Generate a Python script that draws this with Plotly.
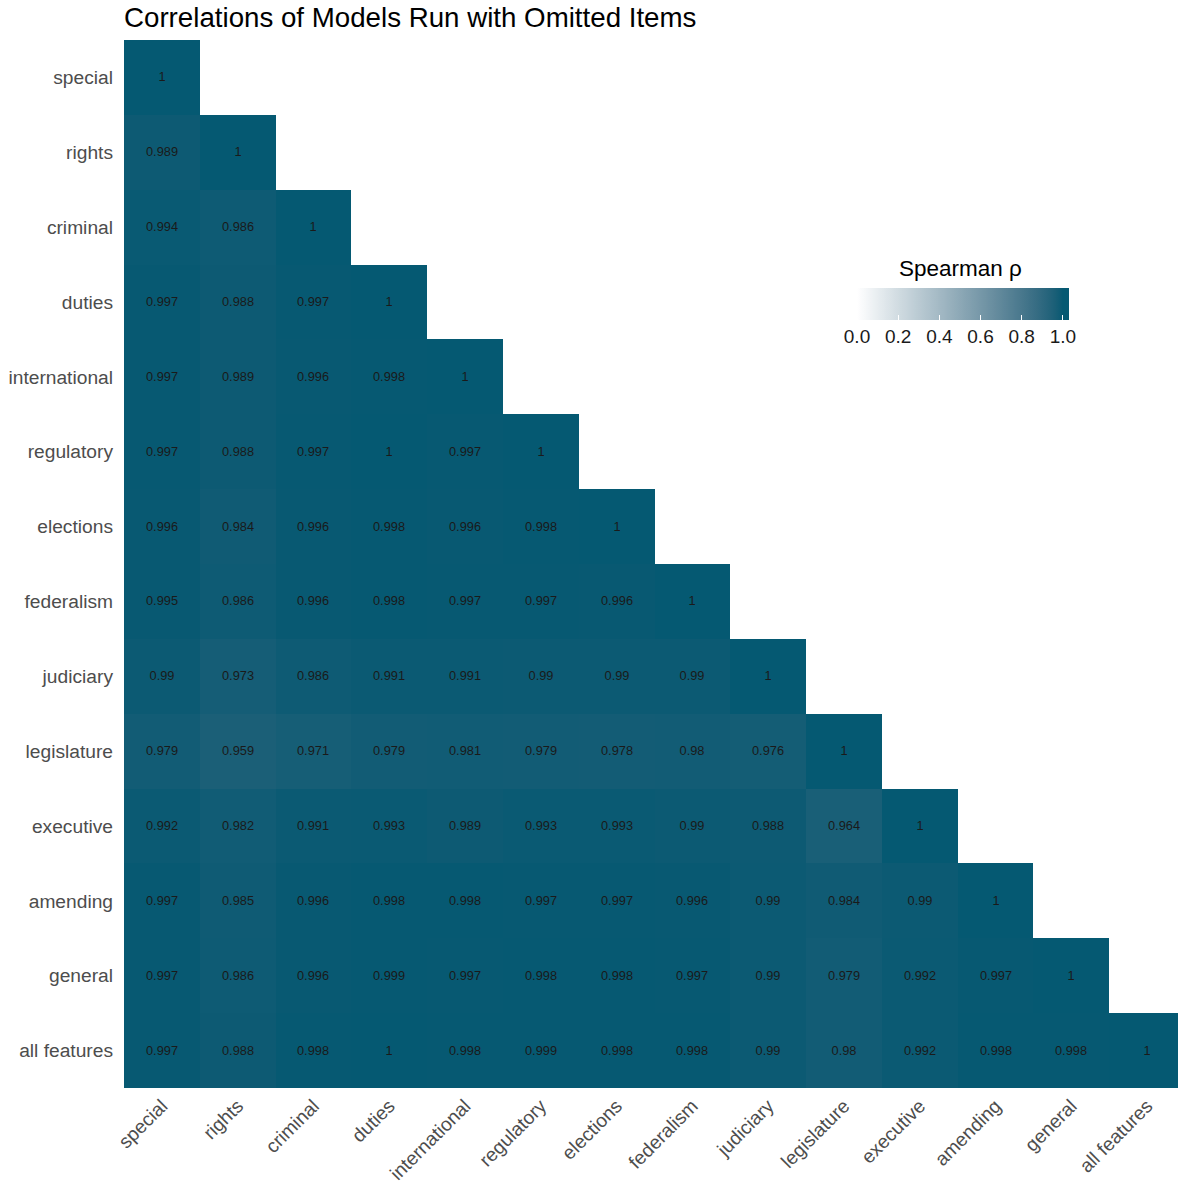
import numpy as np
import plotly.graph_objects as go

items = ["special", "rights", "criminal", "duties", "international", "regulatory",
         "elections", "federalism", "judiciary", "legislature", "executive",
         "amending", "general", "all features"]

r_special = [1]
r_rights = [0.989, 1]
r_criminal = [0.994, 0.986, 1]
r_duties = [0.997, 0.988, 0.997, 1]
r_international = [0.997, 0.989, 0.996, 0.998, 1]
r_regulatory = [0.997, 0.988, 0.997, 1, 0.997, 1]
r_elections = [0.996, 0.984, 0.996, 0.998, 0.996, 0.998, 1]
r_federalism = [0.995, 0.986, 0.996, 0.998, 0.997, 0.997, 0.996, 1]
r_judiciary = [0.99, 0.973, 0.986, 0.991, 0.991, 0.99, 0.99, 0.99, 1]
r_legislature = [0.979, 0.959, 0.971, 0.979, 0.981, 0.979, 0.978, 0.98, 0.976, 1]
r_executive = [0.992, 0.982, 0.991, 0.993, 0.989, 0.993, 0.993, 0.99, 0.988, 0.964, 1]
r_amending = [0.997, 0.985, 0.996, 0.998, 0.998, 0.997, 0.997, 0.996, 0.99, 0.984, 0.99, 1]
r_general = [0.997, 0.986, 0.996, 0.999, 0.997, 0.998, 0.998, 0.997, 0.99, 0.979, 0.992, 0.997, 1]
r_all = [0.997, 0.988, 0.998, 1, 0.998, 0.999, 0.998, 0.998, 0.99, 0.98, 0.992, 0.998, 0.998, 1]

rows = [r_special, r_rights, r_criminal, r_duties, r_international, r_regulatory,
        r_elections, r_federalism, r_judiciary, r_legislature, r_executive,
        r_amending, r_general, r_all]

colorbar_ticks = [0.0, 0.2, 0.4, 0.6, 0.8, 1.0]

n = len(items)
z = []
text = []
for r in rows:
    z.append(list(r) + [None] * (n - len(r)))
    text.append([f"{v:g}" for v in r] + [""] * (n - len(r)))

# ---- colour scale: white -> dark teal, interpolated in CIE Lab (like ggplot2)
def srgb_to_lin(c):
    c = c / 255.0
    return np.where(c <= 0.04045, c / 12.92, ((c + 0.055) / 1.055) ** 2.4)

def lin_to_srgb(c):
    c = np.clip(c, 0, 1)
    v = np.where(c <= 0.0031308, 12.92 * c, 1.055 * c ** (1 / 2.4) - 0.055)
    return np.clip(np.round(v * 255), 0, 255).astype(int)

M = np.array([[0.4124, 0.3576, 0.1805], [0.2126, 0.7152, 0.0722], [0.0193, 0.1192, 0.9505]])
Minv = np.linalg.inv(M)
WP = np.array([0.95047, 1.0, 1.08883])

def f(t):
    d = 6 / 29
    return np.where(t > d ** 3, np.cbrt(t), t / (3 * d * d) + 4 / 29)

def finv(t):
    d = 6 / 29
    return np.where(t > d, t ** 3, 3 * d * d * (t - 4 / 29))

def rgb_to_lab(rgb):
    xyz = M @ srgb_to_lin(np.array(rgb, dtype=float)) / WP
    fx, fy, fz = f(xyz)
    return np.array([116 * fy - 16, 500 * (fx - fy), 200 * (fy - fz)])

def lab_to_rgb(lab):
    L, a, b = lab
    fy = (L + 16) / 116
    fx = fy + a / 500
    fz = fy - b / 200
    xyz = np.array([finv(fx), finv(fy), finv(fz)]) * WP
    return lin_to_srgb(Minv @ xyz)

ZMAX = 1.03  # colourbar runs a little past 1.0, as in the reference legend
low = rgb_to_lab([255, 255, 255])
high = rgb_to_lab([5, 89, 114])
colorscale = []
for t in np.linspace(0, 1, 104):
    v = min(t * ZMAX, 1.0)
    c = lab_to_rgb(low + (high - low) * v)
    colorscale.append([float(t), f"rgb({c[0]},{c[1]},{c[2]})"])

FONT = "Liberation Sans, Arial, sans-serif"
W, H = 1178, 1184
ML, MR, MT, MB = 124, 0, 40, 96
plot_w = W - ML - MR
plot_h = H - MT - MB

CB_X0, CB_LEN, CB_TOP, CB_TH = 857, 212, 288, 32

fig = go.Figure(go.Heatmap(
    z=z, x=items, y=items, text=text, texttemplate="%{text}",
    textfont=dict(size=12.8, color="#1a1a1a", family=FONT),
    colorscale=colorscale, zmin=0, zmax=ZMAX, hoverongaps=False,
    colorbar=dict(
        orientation="h", x=(CB_X0 + CB_LEN / 2 - ML) / plot_w, xanchor="center",
        y=(H - MB - CB_TOP) / plot_h, yanchor="top",
        lenmode="pixels", len=CB_LEN, thickness=CB_TH, xpad=0, ypad=0,
        outlinewidth=0,
        tickvals=colorbar_ticks, ticktext=[f"{v:.1f}" for v in colorbar_ticks],
        ticks="inside", ticklen=5, tickcolor="white", tickwidth=1.2,
        tickfont=dict(size=19, color="#1a1a1a", family=FONT),
    ),
))

# white tick marks on the top edge of the colour bar too (ggplot draws both)
for v in colorbar_ticks:
    xp = CB_X0 + v / ZMAX * CB_LEN
    fig.add_shape(type="line", xref="paper", yref="paper",
                  x0=(xp - ML) / plot_w, x1=(xp - ML) / plot_w,
                  y0=(H - MB - CB_TOP) / plot_h, y1=(H - MB - CB_TOP - 5) / plot_h,
                  line=dict(color="white", width=1.2))

fig.add_annotation(
    text="Spearman ρ", xref="paper", yref="paper",
    x=(960 - ML) / plot_w, y=(H - MB - 268) / plot_h,
    xanchor="center", yanchor="middle", showarrow=False,
    font=dict(size=22.5, color="black", family=FONT),
)

fig.update_layout(
    width=W, height=H,
    margin=dict(l=ML, r=MR, t=MT, b=MB),
    paper_bgcolor="white", plot_bgcolor="white",
    font=dict(family=FONT),
    title=dict(text="Correlations of Models Run with Omitted Items",
               x=ML / W, xanchor="left", y=1 - 17 / H, yanchor="middle",
               font=dict(size=27.7, color="black", family=FONT)),
    xaxis=dict(tickangle=-45, tickfont=dict(size=19.2, color="#4d4d4d", family=FONT),
               showgrid=False, zeroline=False, ticks="", ticklabelstandoff=2,
               automargin=False, range=[-0.5, n - 0.5 - 7 / 75.8]),
    yaxis=dict(autorange="reversed", tickfont=dict(size=19.2, color="#4d4d4d", family=FONT),
               showgrid=False, zeroline=False, ticks="", ticklabelstandoff=10,
               automargin=False),
)

fig.write_html("out.html")
